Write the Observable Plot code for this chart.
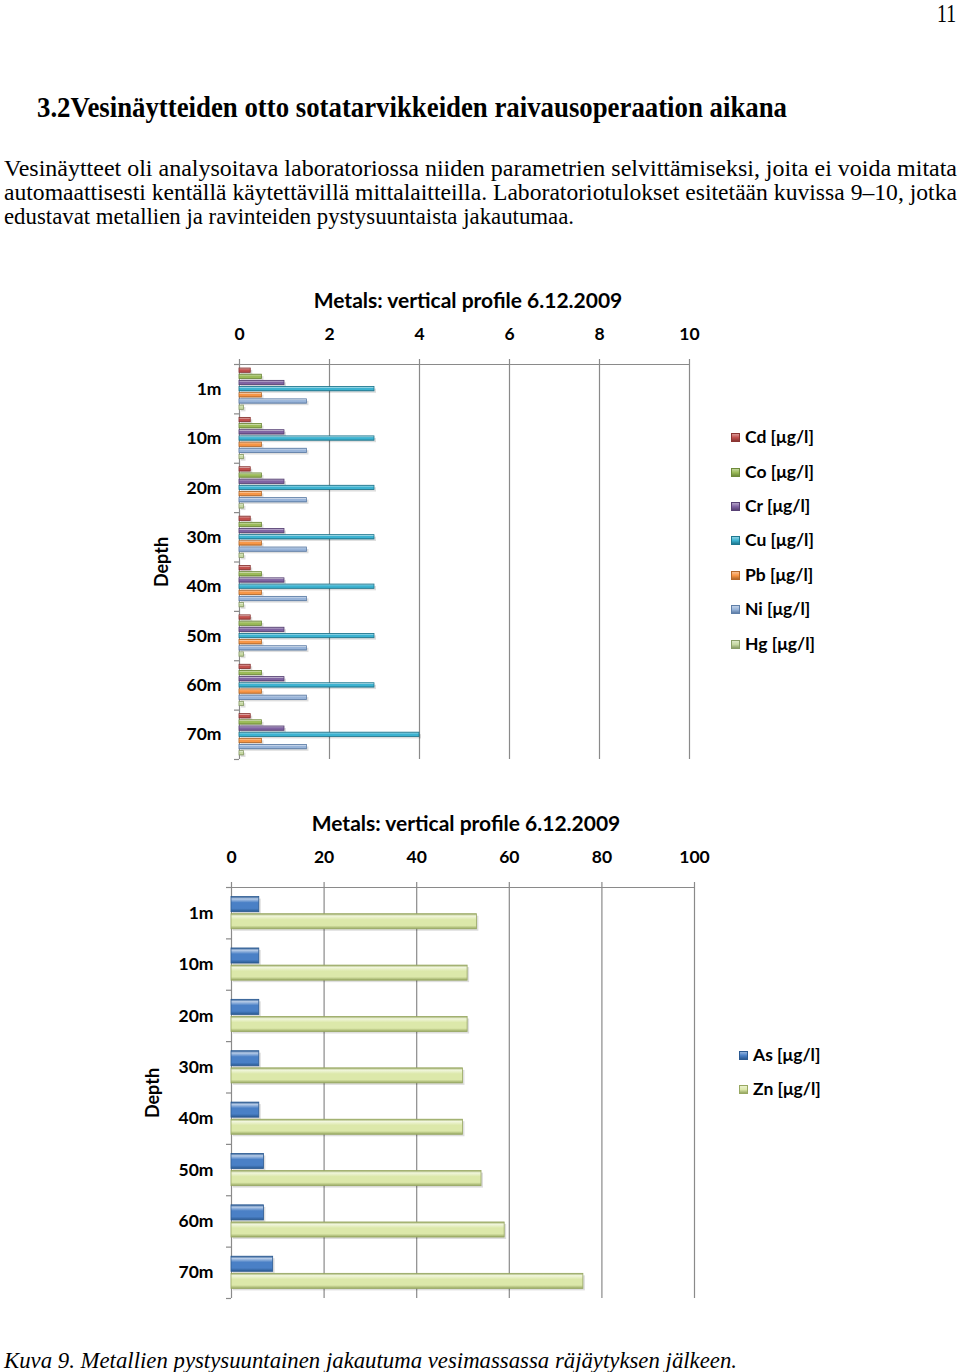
<!DOCTYPE html>
<html><head><meta charset="utf-8">
<script src="https://cdn.jsdelivr.net/npm/d3@7"></script>
<script src="https://cdn.jsdelivr.net/npm/@observablehq/plot@0.6"></script>
<style>
html,body{margin:0;padding:0;background:#fff;}
#page{position:relative;width:960px;height:1372px;overflow:hidden;background:#fff;color:#000;}
.abs{position:absolute;white-space:nowrap;}
.serif{font-family:"Liberation Serif","Times New Roman",serif;}
.cal{font-family:Lato,"Open Sans",sans-serif;font-weight:bold;}
.chart{position:absolute;left:0;}
.lg{position:absolute;display:flex;align-items:center;font-family:Lato,sans-serif;font-weight:bold;font-size:17.5px;line-height:20px;white-space:nowrap;}
.lg span.sw{display:inline-block;margin-right:5px;box-sizing:border-box;}
</style></head><body><div id="page"></div>
<script>
// ---------- data ----------
const depths = ["1m","10m","20m","30m","40m","50m","60m","70m"];
const metals1 = ["Cd","Co","Cr","Cu","Pb","Ni","Hg"];
const Cd = [0.25,0.25,0.25,0.25,0.25,0.25,0.25,0.25];
const Co = [0.5,0.5,0.5,0.5,0.5,0.5,0.5,0.5];
const Cr = [1.0,1.0,1.0,1.0,1.0,1.0,1.0,1.0];
const Cu = [3.0,3.0,3.0,3.0,3.0,3.0,3.0,4.0];
const Pb = [0.5,0.5,0.5,0.5,0.5,0.5,0.5,0.5];
const Ni = [1.5,1.5,1.5,1.5,1.5,1.5,1.5,1.5];
const Hg = [0.1,0.1,0.1,0.1,0.1,0.1,0.1,0.1];
const metals2 = ["As","Zn"];
const As = [6,6,6,6,6,7,7,9];
const Zn = [53,51,51,50,50,54,59,76];
const xTicks1 = [0,2,4,6,8,10];
const xTicks2 = [0,20,40,60,80,100];
const unit = "[μg/l]";
const chartTitle = "Metals: vertical profile 6.12.2009";
const axisName = "Depth";

// ---------- styles ----------
const colors = {
  Cd: ["#C0504D", "#8A3532"], Co: ["#9BBB59", "#6E8A3A"], Cr: ["#8064A2", "#574174"],
  Cu: ["#3DB3D1", "#1E7890"], Pb: ["#F79646", "#B5692A"], Ni: ["#98B4D9", "#5F7FA8"],
  Hg: ["#C6D8A2", "#8A9E68"], As: ["#4A80C6", "#2B5A92"], Zn: ["#DCE8AA", "#98A862"]
};

const page = document.getElementById("page");

function placeText(text, {left, right, cy, size, bold = false, italic = false}) {
  const el = document.createElement("div");
  el.className = "abs serif";
  el.textContent = text;
  el.style.fontSize = size + "px";
  el.style.lineHeight = size + "px";
  el.style.left = left + "px";
  el.style.top = (cy - size * 0.5) + "px";
  if (bold) el.style.fontWeight = "bold";
  if (italic) el.style.fontStyle = "italic";
  page.appendChild(el);
  if (right != null) {
    const w = el.getBoundingClientRect().width;
    el.style.transformOrigin = "0 0";
    el.style.transform = `scaleX(${(right - left) / w})`;
  }
  return el;
}

placeText("11", {left: 937, right: 956, cy: 13, size: 25});
placeText("3.2Vesinäytteiden otto sotatarvikkeiden raivausoperaation aikana", {left: 37, right: 787, cy: 107, size: 30, bold: true});
placeText("Vesinäytteet oli analysoitava laboratoriossa niiden parametrien selvittämiseksi, joita ei voida mitata", {left: 4, right: 957, cy: 168, size: 23});
placeText("automaattisesti kentällä käytettävillä mittalaitteilla. Laboratoriotulokset esitetään kuvissa 9–10, jotka", {left: 4, right: 957, cy: 192, size: 23});
placeText("edustavat metallien ja ravinteiden pystysuuntaista jakautumaa.", {left: 4, right: 574, cy: 216, size: 23});
placeText("Kuva 9. Metallien pystysuuntainen jakautuma vesimassassa räjäytyksen jälkeen.", {left: 4, right: 737, cy: 1360, size: 23, italic: true});

function addDefs(svg, names, prefix) {
  const defs = d3.select(svg).insert("defs", ":first-child");
  for (const n of names) {
    const [base, dark] = colors[n];
    const light = d3.interpolateRgb(base, "#fff")(0.6);
    const g = defs.append("linearGradient").attr("id", prefix + n)
      .attr("x1", 0).attr("y1", 0).attr("x2", 0).attr("y2", 1);
    [[0, dark], [0.15, light], [0.4, base], [0.78, base], [1, dark]].forEach(([o, c]) =>
      g.append("stop").attr("offset", o).attr("stop-color", c));
  }
}

function makeChart({series, names, xTicks, top, height, mL, mR, mT, mB, pad, labelKey, labelDy, prefix, depthDx}) {
  const gapKeys = depths.map(d => `${d}|gap`).concat(["end|gap"]);
  const yDomain = depths.flatMap(d => [`${d}|gap`, ...names.map(n => `${d}|${n}`)]).concat(["end|gap"]);
  const rows = depths.flatMap((d, i) => names.map(n => ({depth: d, name: n, key: `${d}|${n}`, value: series[n][i]})));
  const svg = Plot.plot({
    width: 960, height, marginLeft: mL, marginRight: mR, marginTop: mT, marginBottom: mB,
    style: {fontFamily: "Lato, sans-serif", fontWeight: "bold", fontSize: "16px", color: "#000", background: "transparent"},
    x: {domain: [xTicks[0], xTicks[xTicks.length - 1]], axis: null},
    y: {domain: yDomain, paddingInner: pad, paddingOuter: -(1 - pad) / 2, round: false, axis: null},
    marks: [
      Plot.ruleX(xTicks, {stroke: "#8a8a8a", strokeWidth: 1.2, insetTop: -5}),
      Plot.ruleY([gapKeys[0]], {x1: xTicks[0], x2: xTicks[xTicks.length - 1], stroke: "#8a8a8a", strokeWidth: 1.2}),
      Plot.ruleY(gapKeys, {x1: xTicks[0], x2: xTicks[0], insetLeft: -5, stroke: "#8a8a8a", strokeWidth: 1.2}),
      Plot.barX(rows, {y: "key", x: "value", fill: "#000", fillOpacity: 0.13, dx: 2, dy: 2}),
      ...names.map(n => Plot.barX(rows.filter(r => r.name === n), {
        y: "key", x: "value", fill: `url(#${prefix}${n})`, stroke: colors[n][1], strokeWidth: 0.8
      })),
      Plot.axisX({anchor: "top", ticks: xTicks, tickSize: 0, tickPadding: 25, fontSize: 17.5, fontWeight: "bold", label: null}),
      Plot.text(depths, {y: d => `${d}|${labelKey}`, text: d => d, frameAnchor: "left", textAnchor: "end", dx: -18, dy: labelDy, fontSize: 17.5}),
      Plot.text([axisName], {frameAnchor: "left", text: d => d, rotate: -90, textAnchor: "middle", dx: -depthDx, fontSize: 18})
    ]
  });
  addDefs(svg, names, prefix);
  svg.classList.add("chart");
  svg.style.top = top + "px";
  page.appendChild(svg);
}

makeChart({series: {Cd, Co, Cr, Cu, Pb, Ni, Hg}, names: metals1, xTicks: xTicks1, top: 280, height: 500,
  mL: 239, mR: 271, mT: 84, mB: 21, pad: 0.3, labelKey: "Cu", labelDy: 0, prefix: "g1", depthDx: 77});
makeChart({series: {As, Zn}, names: metals2, xTicks: xTicks2, top: 800, height: 520,
  mL: 231, mR: 266, mT: 87, mB: 22, pad: 0.12, labelKey: "As", labelDy: 411 / 24 / 2, prefix: "g2", depthDx: 78});

function chartTitleAt(cx, cy) {
  const el = document.createElement("div");
  el.className = "abs cal";
  el.textContent = chartTitle;
  el.style.fontSize = "21px";
  el.style.lineHeight = "24px";
  el.style.top = (cy - 12) + "px";
  page.appendChild(el);
  const w = el.getBoundingClientRect().width;
  el.style.left = (cx - w / 2) + "px";
}
chartTitleAt(468, 300);
chartTitleAt(466, 823);

function legend(names, left, ys, sw) {
  names.forEach((n, i) => {
    const el = document.createElement("div");
    el.className = "lg";
    el.style.left = left + "px";
    el.style.top = (ys[i] - 10) + "px";
    const s = document.createElement("span");
    s.className = "sw";
    s.style.width = sw + "px"; s.style.height = sw + "px";
    s.style.background = `linear-gradient(${d3.interpolateRgb(colors[n][0], "#fff")(0.4)}, ${colors[n][0]} 50%, ${colors[n][1]})`;
    s.style.border = `1px solid ${colors[n][1]}`;
    el.appendChild(s);
    el.appendChild(document.createTextNode(`${n} ${unit}`));
    page.appendChild(el);
  });
}
legend(metals1, 731, [437, 472, 506, 540, 575, 609, 644], 9);
legend(metals2, 739, [1055, 1089], 9);
</script>
</body></html>
